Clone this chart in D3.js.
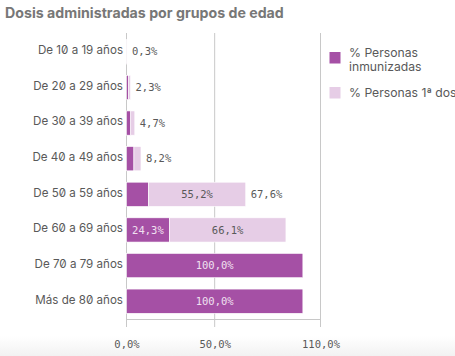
<!DOCTYPE html>
<html><head><meta charset="utf-8">
<script src="https://cdn.jsdelivr.net/npm/d3@7"></script>
<style>
html,body{margin:0;padding:0;background:#fff;}
svg{display:block;}
.num{font-family:"DejaVu Sans Mono",monospace;}
</style></head>
<body>
<svg id="c" width="455" height="356"></svg>
<script>
const categories = ["De 10 a 19 años","De 20 a 29 años","De 30 a 39 años","De 40 a 49 años","De 50 a 59 años","De 60 a 69 años","De 70 a 79 años","Más de 80 años"];
const inmunizadas = [0.1, 1.2, 2.4, 4.2, 12.4, 24.3, 100.0, 100.0];
const primeraDosis = [0.2, 1.1, 2.3, 4.0, 55.2, 66.1, 0.0, 0.0];
const totalLabels = ["0,3%","2,3%","4,7%","8,2%","67,6%",null,null,null];
const xTicks = [0, 50, 110];
const seriesNames = ["% Personas inmunizadas","% Personas 1ª dosis"];

const svg = d3.select("#c");
const fmt = v => d3.format(".1f")(v).replace(".", ",") + "%";
const dark = "#a550a5", light = "#e6cde6", grey = "#595959";

// bottom gradient
const defs = svg.append("defs");
const g = defs.append("linearGradient").attr("id","bg").attr("x1",0).attr("y1",0).attr("x2",0).attr("y2",1);
g.append("stop").attr("offset","0").attr("stop-color","#fff");
g.append("stop").attr("offset","1").attr("stop-color","#f2f2f2");
svg.append("rect").attr("x",0).attr("y",336).attr("width",455).attr("height",20).attr("fill","url(#bg)");

svg.append("text").attr("x",5).attr("y",18)
  .attr("font-family","Inter, sans-serif").attr("font-weight","700").attr("font-size",14.2)
  .attr("fill","#777").text("Dosis administradas por grupos de edad");

const x = d3.scaleLinear().domain([0,110]).range([126.5,320.5]);
const y = d3.scaleBand().domain(categories).range([34,319]).paddingInner(0.32).paddingOuter(0.16);

// grid/axis lines
svg.append("g").selectAll("line").data(xTicks).join("line")
  .attr("x1",d=>x(d)).attr("x2",d=>x(d)).attr("y1",33).attr("y2",327)
  .attr("stroke","#c8c8c8").attr("stroke-width",1);
svg.append("line").attr("x1",x(0)).attr("x2",x(110)).attr("y1",319.5).attr("y2",319.5)
  .attr("stroke","#c8c8c8");

const xAxis = svg.append("g").attr("transform","translate(0,320)")
  .call(d3.axisBottom(x).tickValues(xTicks).tickFormat(fmt).tickSize(0).tickPadding(21));
xAxis.select(".domain").remove();
xAxis.selectAll("text").attr("class","num").attr("font-size",10.5).attr("fill",grey);

const yAxis = svg.append("g").attr("transform","translate(123,0)")
  .call(d3.axisLeft(y).tickSize(0).tickPadding(0));
yAxis.select(".domain").remove();
yAxis.selectAll("text").attr("font-family","Inter, sans-serif").attr("font-size",11.6)
  .attr("fill",grey).attr("dy","0.2em").style("font-feature-settings","'zero' 1");

const rows = categories.map((c,i)=>({c, a:inmunizadas[i], b:primeraDosis[i], t:totalLabels[i]}));
const bars = svg.append("g");
bars.selectAll("rect.a").data(rows).join("rect").attr("class","a")
  .attr("x",x(0)).attr("y",d=>y(d.c)).attr("width",d=>x(d.a)-x(0)).attr("height",y.bandwidth())
  .attr("fill",dark).attr("stroke","#fff").attr("stroke-width",0.6);
bars.selectAll("rect.b").data(rows).join("rect").attr("class","b")
  .attr("x",d=>x(d.a)).attr("y",d=>y(d.c)).attr("width",d=>x(d.a+d.b)-x(d.a)).attr("height",y.bandwidth())
  .attr("fill",light).attr("stroke","#fff").attr("stroke-width",0.6);

const lab = svg.append("g").attr("class","num").attr("font-size",10.5);
// inside labels
lab.selectAll("text.ia").data(rows.filter(d=>x(d.a)-x(0)>36)).join("text").attr("class","ia")
  .attr("x",d=>(x(0)+x(d.a))/2).attr("y",d=>y(d.c)+y.bandwidth()/2).attr("dy","0.35em")
  .attr("text-anchor","middle").attr("fill","#f0e0f0").text(d=>fmt(d.a));
lab.selectAll("text.ib").data(rows.filter(d=>x(d.a+d.b)-x(d.a)>36)).join("text").attr("class","ib")
  .attr("x",d=>(x(d.a)+x(d.a+d.b))/2).attr("y",d=>y(d.c)+y.bandwidth()/2).attr("dy","0.35em")
  .attr("text-anchor","middle").attr("fill",grey).text(d=>fmt(d.b));
lab.selectAll("text.t").data(rows.filter(d=>d.t)).join("text").attr("class","t")
  .attr("x",d=>x(d.a+d.b)+5).attr("y",d=>y(d.c)+y.bandwidth()/2).attr("dy","0.35em")
  .attr("fill",grey).text(d=>d.t);

// legend
const leg = svg.append("g").attr("font-family","Inter, sans-serif").attr("font-size",12.2).attr("fill",grey);
leg.append("rect").attr("x",329.5).attr("y",52).attr("width",11).attr("height",11.5).attr("fill",dark);
leg.append("text").attr("x",349).attr("y",56.5).text("% Personas");
leg.append("text").attr("x",349).attr("y",70.5).text("inmunizadas");
leg.append("rect").attr("x",329.5).attr("y",87).attr("width",11).attr("height",11.5).attr("fill",light);
leg.append("text").attr("x",349).attr("y",97).text(seriesNames[1]);
</script>
</body></html>
